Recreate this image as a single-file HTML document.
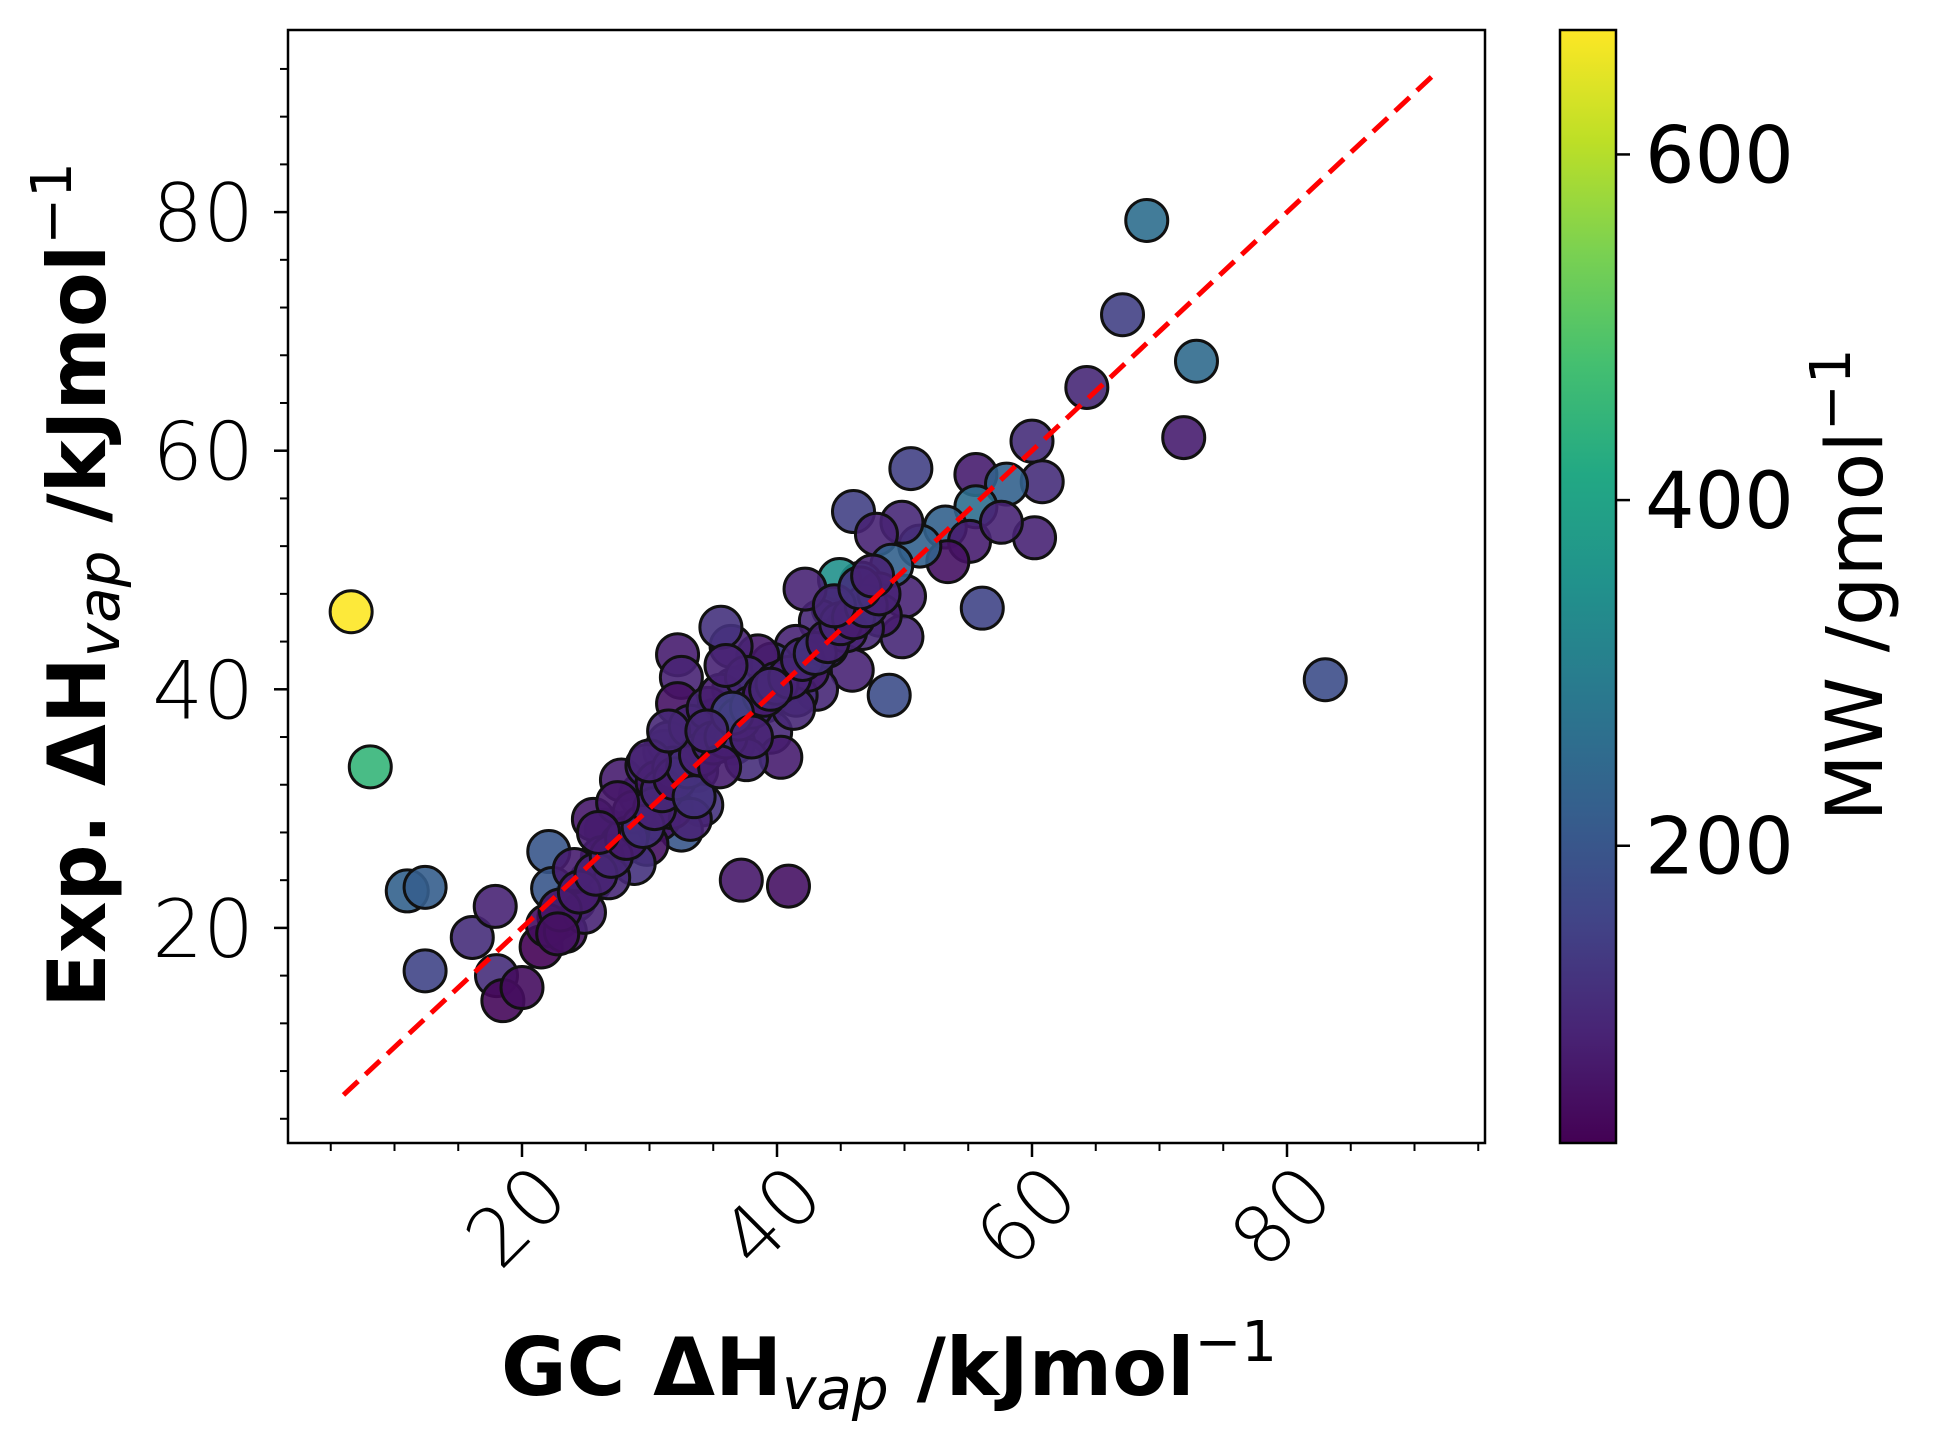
<!DOCTYPE html>
<html><head><meta charset="utf-8">
<style>
html,body{margin:0;padding:0;background:#fff;}
svg{display:block;}
.tick{font-family:"DejaVu Sans ExtraLight","DejaVu Sans","Liberation Sans",sans-serif;font-weight:200;font-size:80px;fill:#000;}
.cbt{font-family:"DejaVu Sans","Liberation Sans",sans-serif;font-size:78px;fill:#000;}
.lab{font-family:"DejaVu Sans","Liberation Sans",sans-serif;font-weight:bold;font-size:80px;fill:#000;}
</style></head>
<body>
<svg id="chart" width="1939" height="1452" viewBox="0 0 1939 1452" xmlns="http://www.w3.org/2000/svg">
<defs>
<linearGradient id="vir" x1="0" y1="1" x2="0" y2="0">
<stop offset="0" stop-color="#440154"/><stop offset="0.1" stop-color="#482475"/><stop offset="0.2" stop-color="#414487"/><stop offset="0.3" stop-color="#355f8d"/><stop offset="0.4" stop-color="#2a788e"/><stop offset="0.5" stop-color="#21918c"/><stop offset="0.6" stop-color="#22a884"/><stop offset="0.7" stop-color="#44bf70"/><stop offset="0.8" stop-color="#7ad151"/><stop offset="0.9" stop-color="#bddf26"/><stop offset="1" stop-color="#fde725"/>
</linearGradient>
<clipPath id="clip"><rect x="288" y="30" width="1197" height="1113"/></clipPath>
</defs>
<g id="points" clip-path="url(#clip)"></g>
<line id="diag" stroke="#ff0000" stroke-width="5" stroke-dasharray="20,10"/>
<rect x="288" y="30" width="1197" height="1113" fill="none" stroke="#000" stroke-width="2.5"/>
<g id="axes"></g>
<rect x="1560" y="30" width="56" height="1113" fill="url(#vir)" stroke="#000" stroke-width="2.5"/>
<g id="cbar"></g>
<text class="lab" x="889" y="1395" text-anchor="middle">GC ΔH<tspan font-style="italic" font-weight="normal" font-size="58" dy="14">vap</tspan><tspan dy="-14"> /kJmol</tspan><tspan font-size="56" font-weight="normal" dy="-34">−1</tspan></text>
<text class="lab" transform="translate(105,585) rotate(-90)" text-anchor="middle">Exp. ΔH<tspan font-style="italic" font-weight="normal" font-size="58" dy="14">vap</tspan><tspan dy="-14"> /kJmol</tspan><tspan font-size="56" font-weight="normal" dy="-34">−1</tspan></text>
<text class="cbt" transform="translate(1882,585) rotate(-90)" text-anchor="middle">MW /gmol<tspan font-size="56" dy="-32">−1</tspan></text>
</svg>
<script>
const gcX=[6.6,8.1,11,12.4,12.4,16.1,17.9,18,18.5,20,37.2,40.9,69,67.1,72.9,71.9,64.3,83,60,60.8,60.2,50.5,55.6,56.1,58,55.6,53.2,55.1,53.4,57.6,51.2,49.8,48.8,46,47.8,50,49,49.8,48.1,46.7,45.9,46.6,44.9,44.4,43.4,42.2,43.1,41.5,39.6,38.5,36.4,35.6,32.2,32.5,32.2,36.6,37.8,39,39.5,40.3,35.1,36.6,37.6,33.2,31.2,33.7,31.7,34.1,32.5,30.7,29.3,27.8,29.8,28.3,26.6,25.6,27.8,28.8,26.3,25.4,24.1,22.9,22.1,22.4,21.5,22,23.4,24.9,26.8,24.1,31.5,33.2,34.6,35.6,37.6,40.5,41.5,42.4,43.9,45.4,41.3,29.8,30.6,31.7,33.2,28.8,31.9,
23,24.5,25.8,27,28.2,29.5,30.4,31,32,33,34,35,36,37,38,39,40,41,42,43,44,45,46,47,48,30,31.5,33.5,35.5,36.5,38,39.5,27.5,26,34.5,36,44.5,46.5,47.5,22.8];
const expY=[46.5,33.5,23.1,23.4,16.4,19.2,21.8,16,13.9,15,24,23.5,79.3,71.4,67.5,61.1,65.3,40.8,60.8,57.4,52.7,58.5,58,46.8,57.2,55.3,53.6,52.4,50.7,54,52,54,39.5,54.9,53,47.8,50.4,44.4,46.2,45.1,41.6,48.9,49.2,46.8,45.7,48.4,40,43.6,42.1,42.8,43.6,45.2,42.9,41,38.8,40,38.4,39,36.4,34.3,37.4,35.5,34.1,35.3,34.8,33.2,31.7,30.3,28.2,29.1,31.1,32.4,27,28,28.2,29.1,27,25.4,25.9,23.9,22.3,20.9,26.4,23.3,18.4,20.2,19.7,21.3,24.2,24.9,35.5,36.9,38.4,39.5,41,40.7,39.5,41.6,43.6,44.9,38.4,33.6,32.2,30.1,29.1,29.7,33.4,
21.5,23,24.5,26,27.5,28.5,30,31.5,32.5,33.5,34.5,35.5,36,37.5,38.5,39.5,40.5,41,42.5,43,44,45.5,46,47,48,34,36.5,31,33.5,38,36,40,30.5,28,36.5,42,47,48.5,49.5,19.5];
const molW=[672,450,230,220,160,110,90,110,40,50,70,60,260,150,250,80,100,180,110,110,90,150,80,160,230,260,230,80,60,90,230,100,180,150,90,90,230,100,80,100,90,260,350,200,100,90,100,90,150,70,90,120,80,90,60,270,180,200,100,80,150,160,110,100,80,100,90,120,200,70,120,80,60,70,80,70,200,120,80,60,70,90,200,200,30,50,60,90,100,80,100,90,100,80,100,100,110,80,100,90,100,100,70,80,90,100,120,
70,80,90,100,80,120,90,100,80,110,90,100,120,90,100,80,110,90,100,120,90,100,80,110,90,90,100,120,80,150,90,100,70,80,100,90,100,120,90,60];
const xTicks=[20,40,60,80];
const yTicks=[20,40,60,80];
const cTicks=[200,400,600];
const lineEnds=[6,91.4];

const X=v=>267+12.75*v, Y=v=>1166.5-11.93*v;
const C0=28,C1=672, CY=v=>1143-(v-C0)/(C1-C0)*1113;
const vir=[[68,1,84],[72,36,117],[65,68,135],[53,95,141],[42,120,142],[33,145,140],[34,168,132],[68,191,112],[122,209,81],[189,223,38],[253,231,37]];
function col(v){let t=Math.max(0,Math.min(1,(v-C0)/(C1-C0)))*10;let i=Math.min(9,Math.floor(t)),f=t-i;let a=vir[i],b=vir[i+1];return 'rgb('+a.map((c,k)=>Math.round(c+(b[k]-c)*f)).join(',')+')';}
const NS='http://www.w3.org/2000/svg';
function mk(tag,attrs,parent){const e=document.createElementNS(NS,tag);for(const k in attrs)e.setAttribute(k,attrs[k]);parent.appendChild(e);return e;}
const pts=document.getElementById('points');
gcX.forEach((x,i)=>{const c=mk('circle',{cx:X(x),cy:Y(expY[i]),r:21,fill:col(molW[i]),'fill-opacity':0.9,stroke:'#111','stroke-width':3},pts);

});
const d=document.getElementById('diag');
d.setAttribute('x1',X(lineEnds[0]));d.setAttribute('y1',Y(lineEnds[0]));d.setAttribute('x2',X(lineEnds[1]));d.setAttribute('y2',Y(lineEnds[1]));
const ax=document.getElementById('axes');
for(let v=5;v<=95;v+=5){const px=X(v);if(px<288||px>1485)continue;const major=xTicks.includes(v);
const t=mk('line',{x1:px,x2:px,y1:1143,y2:1143+(major?14:8),stroke:'#000','stroke-width':major?2.5:2},ax);

}
for(let v=4;v<=96;v+=4){const py=Y(v);if(py<30||py>1143)continue;const major=yTicks.includes(v);
const t=mk('line',{x1:288,x2:288-(major?14:8),y1:py,y2:py,stroke:'#000','stroke-width':major?2.5:2},ax);

}
xTicks.forEach(v=>{const px=X(v);const t=mk('text',{class:'tick','text-anchor':'end',transform:'translate('+(px+50)+',1200) rotate(-45)'},ax);t.textContent=v;

});
yTicks.forEach(v=>{const t=mk('text',{class:'tick','text-anchor':'end',x:254,y:Y(v)+29},ax);t.textContent=v;

});
const cb=document.getElementById('cbar');
cTicks.forEach(v=>{const py=CY(v);const l=mk('line',{x1:1616,x2:1630,y1:py,y2:py,stroke:'#000','stroke-width':2.5},cb);


const t=mk('text',{class:'cbt',x:1645,y:py+28},cb);t.textContent=v;

});
</script>
</body></html>
